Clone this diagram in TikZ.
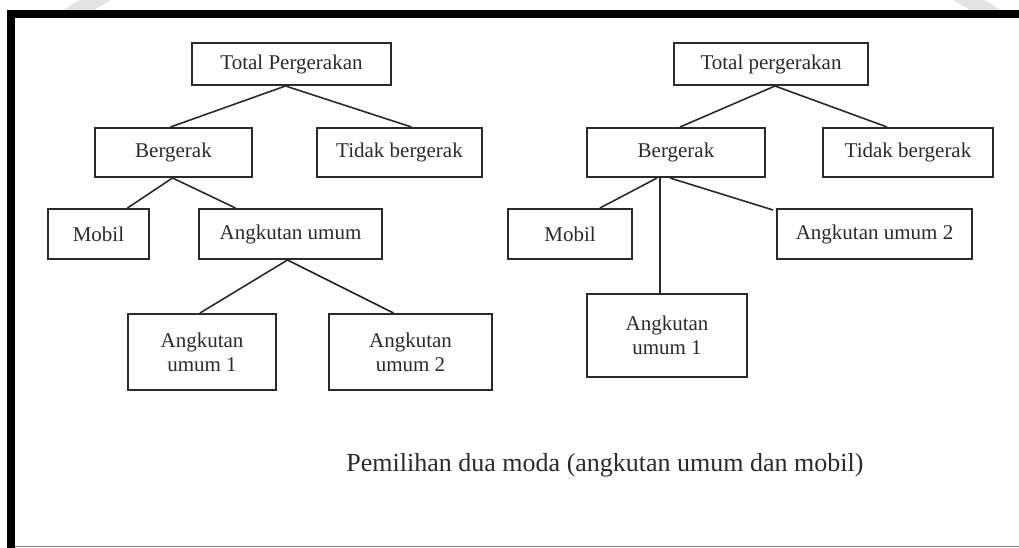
\documentclass[tikz,border=0pt]{standalone}
\usepackage{fontspec}
\setmainfont{Liberation Serif}
\usetikzlibrary{calc}
\definecolor{ink}{HTML}{2A2A2A}
\definecolor{wm}{HTML}{E4E4E4}
\tikzset{
  box/.style={draw=ink, line width=2pt, fill=white, inner sep=0pt, align=center,
    font=\fontsize{21}{24}\selectfont, text=ink},
  link/.style={draw=ink, line width=1.6pt},
}
\begin{document}
\begin{tikzpicture}[x=1pt,y=1pt]
\useasboundingbox (0,0) rectangle (1019,-548);
% faint watermark arcs above the frame
\begin{scope}
  \clip (0,0) rectangle (1019,-11);
  \draw[wm, line width=16pt] (532,-748) circle (866);
\end{scope}
% frame
\fill[black] (7,-10) rectangle (1019,-18);
\fill[black] (7,-10) rectangle (15,-548);
\draw[gray, line width=1.5pt] (15,-546.5) -- (1019,-546.5);

% left tree
\node[box, minimum width=199, minimum height=42] (tp1) at (291.5,-64) {Total Pergerakan};
\node[box, minimum width=157, minimum height=49] (b1) at (173.5,-152.5) {Bergerak};
\node[box, minimum width=165, minimum height=49] (tb1) at (399.5,-152.5) {Tidak bergerak};
\node[box, minimum width=101, minimum height=50] (m1) at (98.5,-234) {Mobil};
\node[box, minimum width=183, minimum height=50] (au1) at (290.5,-234) {Angkutan umum};
\node[box, minimum width=148, minimum height=76] (a11) at (202,-352) {Angkutan\\umum 1};
\node[box, minimum width=163, minimum height=76] (a12) at (410.5,-352) {Angkutan\\umum 2};

\draw[link] ([xshift=-6pt]tp1.south) -- ([xshift=-3pt]b1.north);
\draw[link] ([xshift=-6pt]tp1.south) -- ([xshift=12pt]tb1.north);
\draw[link] ([xshift=-1pt]b1.south) -- ([xshift=29pt]m1.north);
\draw[link] ([xshift=-1pt]b1.south) -- ([xshift=-55pt]au1.north);
\draw[link] ([xshift=-3pt]au1.south) -- ([xshift=-2pt]a11.north);
\draw[link] ([xshift=-3pt]au1.south) -- ([xshift=-17pt]a12.north);

% right tree
\node[box, minimum width=194, minimum height=42] (tp2) at (771,-64) {Total pergerakan};
\node[box, minimum width=178, minimum height=49] (b2) at (676,-152.5) {Bergerak};
\node[box, minimum width=170, minimum height=49] (tb2) at (908,-152.5) {Tidak bergerak};
\node[box, minimum width=124, minimum height=50] (m2) at (570,-234) {Mobil};
\node[box, minimum width=195, minimum height=50] (au22) at (874.5,-234) {Angkutan umum 2};
\node[box, minimum width=160, minimum height=83] (a21) at (667,-335.5) {Angkutan\\umum 1};

\draw[link] ([xshift=4pt]tp2.south) -- ([xshift=4pt]b2.north);
\draw[link] ([xshift=4pt]tp2.south) -- ([xshift=-21pt]tb2.north);
\draw[link] ([xshift=-19pt]b2.south) -- ([xshift=30pt]m2.north);
\draw[link] ([xshift=-16pt]b2.south) -- ([xshift=-7pt]a21.north);
\draw[link] ([xshift=-6pt]b2.south) -- ([xshift=-3pt,yshift=-2pt]au22.north west);

% caption
\node[font=\fontsize{26}{30}\selectfont, text=ink, inner sep=0pt] (cap) at (605,-465) {Pemilihan dua moda (angkutan umum dan mobil)};
\end{tikzpicture}
\end{document}
